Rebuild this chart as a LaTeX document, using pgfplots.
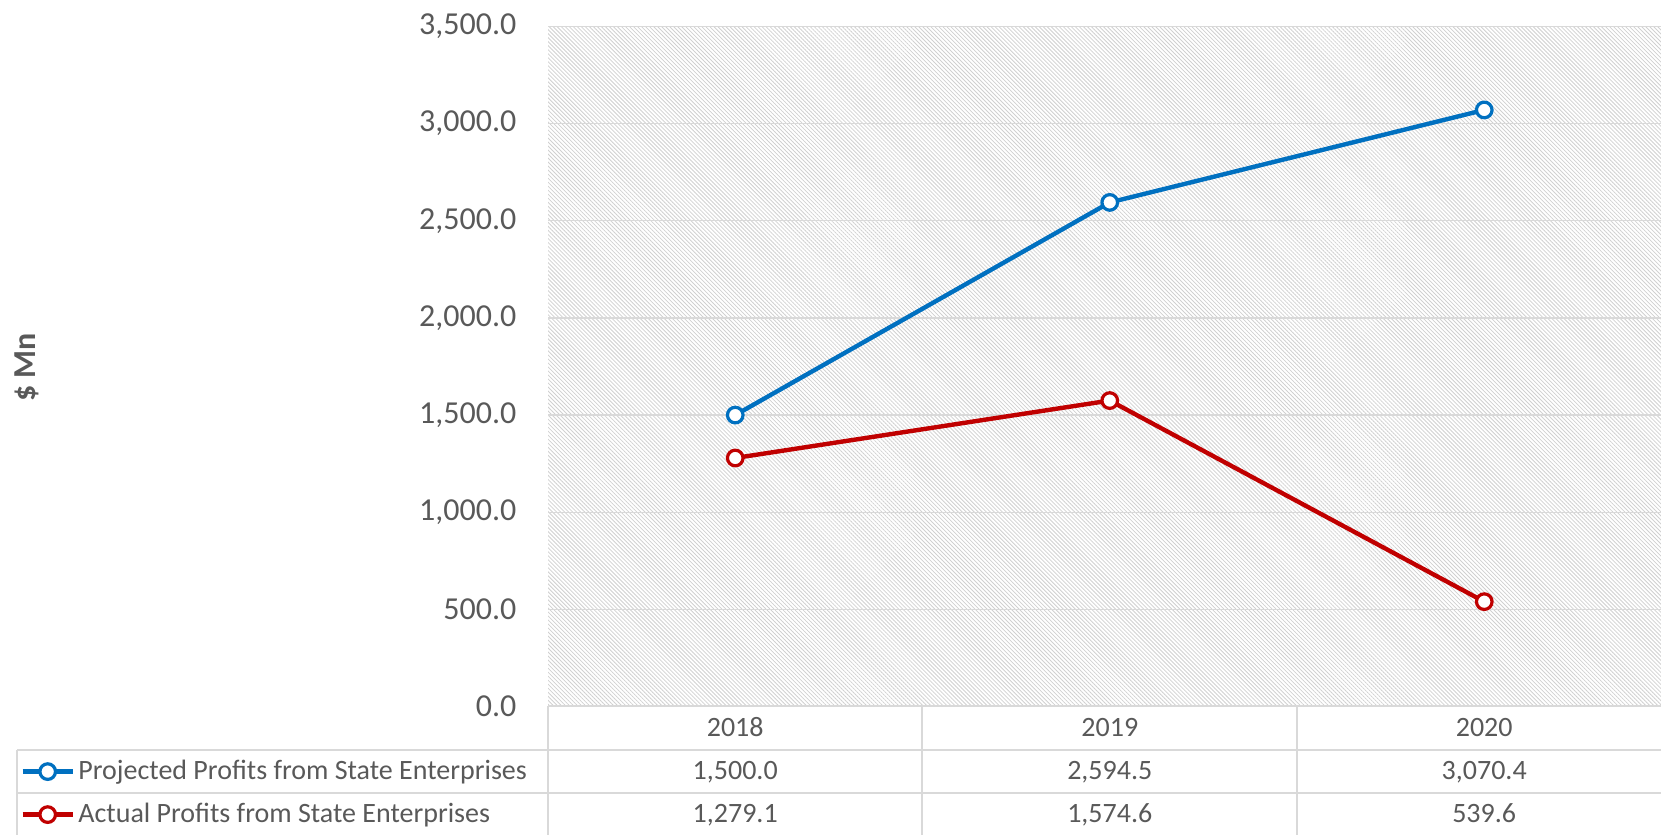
\documentclass[border=0pt]{standalone}
\usepackage{fontspec}
\setmainfont{Carlito}
\usepackage{pgfplots}
\pgfplotsset{compat=1.18}
\usetikzlibrary{patterns.meta}
\definecolor{txt}{HTML}{595959}
\definecolor{grd}{HTML}{D9D9D9}
\definecolor{blu}{HTML}{0070C0}
\definecolor{rd}{HTML}{C00000}
\definecolor{hatch}{HTML}{D0D0D0}
\begin{document}
\begin{tikzpicture}[x=1pt,y=1pt]
\useasboundingbox (0,0) rectangle (830.5,417.5);
\clip (0,0) rectangle (830.5,417.5);
\begin{axis}[
  at={(274pt,64.25pt)}, anchor=south west,
  scale only axis, width=561.75pt, height=340pt,
  xmin=-0.5, xmax=2.5, ymin=0, ymax=3500,
  xtick=\empty,
  ytick={0,500,1000,1500,2000,2500,3000,3500},
  ymajorgrids, grid style={grd, line width=0.65pt},
  axis line style={draw=none}, major tick length=0pt,
  yticklabel style={font=\fontsize{16}{19}\selectfont, text=txt, anchor=east, inner sep=0pt, xshift=-15.6pt,
    /pgf/number format/fixed, /pgf/number format/fixed zerofill, /pgf/number format/precision=1,
    /pgf/number format/1000 sep={,}, /pgf/number format/assume math mode=true},
  clip=false,
  axis background/.style={pattern={Lines[angle=-45,distance=1.42pt,line width=0.4pt]}, pattern color=hatch},
]
\addplot[blu, line width=2.2pt, mark=*, mark size=3.9pt, mark options={fill=white, draw=blu, line width=1.6pt}]
  coordinates {(0,1500.0) (1,2594.5) (2,3070.4)};
\addplot[rd, line width=2.2pt, mark=*, mark size=3.9pt, mark options={fill=white, draw=rd, line width=1.6pt}]
  coordinates {(0,1279.1) (1,1574.6) (2,539.6)};
\end{axis}
% data table grid
\begin{scope}[grd, line width=1pt]
\draw (274,64.25) -- (840,64.25);
\draw (8.5,42.5) -- (840,42.5);
\draw (8.5,21) -- (840,21);
\draw (8.5,42.5) -- (8.5,0);
\draw (274,64.25) -- (274,0);
\draw (461,64.25) -- (461,0);
\draw (648.3,64.25) -- (648.3,0);
\end{scope}
% header and values
\begin{scope}[font=\fontsize{14}{17}\selectfont, text=txt]
\node[anchor=base] at (367.6,49.2) {2018};
\node[anchor=base] at (554.9,49.2) {2019};
\node[anchor=base] at (742.1,49.2) {2020};
\node[anchor=base] at (367.6,27.5) {1,500.0};
\node[anchor=base] at (554.9,27.5) {2,594.5};
\node[anchor=base] at (742.1,27.5) {3,070.4};
\node[anchor=base] at (367.6,6) {1,279.1};
\node[anchor=base] at (554.9,6) {1,574.6};
\node[anchor=base] at (742.1,6) {539.6};
\node[anchor=base west, inner sep=0pt] at (39,27.5) {Projected Profits from State Enterprises};
\node[anchor=base west, inner sep=0pt] at (39,6) {Actual Profits from State Enterprises};
\end{scope}
% legend keys
\draw[blu, line width=2.2pt] (11.35,31.7) -- (36.35,31.7);
\draw[blu, fill=white, line width=1.6pt] (23.85,31.7) circle (3.9pt);
\draw[rd, line width=2.2pt] (11.35,10.2) -- (36.35,10.2);
\draw[rd, fill=white, line width=1.6pt] (23.85,10.2) circle (3.9pt);
% y label
\node[rotate=90, font=\bfseries\fontsize{16}{19}\selectfont, text=txt] at (13.2,233.7) {\$ Mn};
\end{tikzpicture}
\end{document}
